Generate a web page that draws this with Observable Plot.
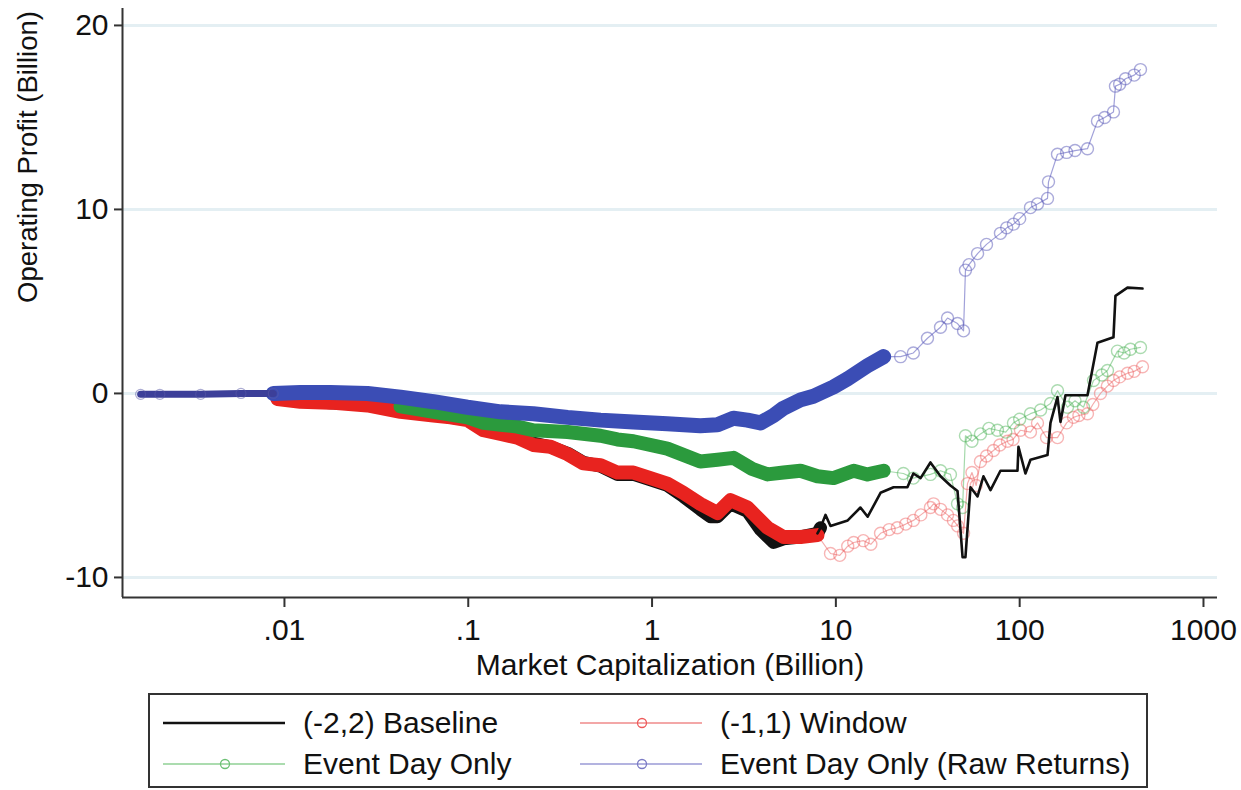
<!DOCTYPE html>
<html>
<head>
<meta charset="utf-8">
<script src="https://cdn.jsdelivr.net/npm/d3@7"></script>
<script src="https://cdn.jsdelivr.net/npm/@observablehq/plot@0.6"></script>
<style>
  body { margin: 0; background: #fff; font-family: "Liberation Sans", Arial, sans-serif; }
  #wrap { position: relative; width: 1241px; height: 790px; }
  #legend { position: absolute; left: 148px; top: 693px; width: 1000px; height: 95px;
            box-sizing: border-box; border: 2px solid #333; }
  .item { position: absolute; display: flex; align-items: center; font-size: 30px; color: #111; white-space: nowrap; }
</style>
</head>
<body>
<div id="wrap">
  <div id="chart"></div>
  <div id="legend"></div>
</div>
<script>
// tick marks and labels
const capTicks = [0.01, 0.1, 1, 10, 100, 1000];
const capTickLabels = [".01", ".1", "1", "10", "100", "1000"];
const profitTicks = [-10, 0, 10, 20];

// (-2,2) Baseline
const baselineCap = [0.00916, 0.0122, 0.0178, 0.0283, 0.0428, 0.0647, 0.0800, 0.0990, 0.121, 0.150,
  0.185, 0.226, 0.280, 0.347, 0.423, 0.524, 0.648, 0.792, 0.980, 1.21,
  1.48, 1.83, 2.08, 2.27, 2.67, 3.30, 3.89, 4.58, 5.19, 6.42,
  7.94, 8.25, 8.78, 9.35, 11.6, 13.6, 14.9, 17.5, 20.6, 24.5,
  26.4, 28.9, 32.7, 37.1, 42.0, 45.9, 48.9, 50.7, 54.0, 59.0,
  63.5, 69.4, 78.6, 97.3, 98.5, 107.5, 114.5, 141.7, 147.1, 160.6,
  166.7, 177.5, 233.8, 265.0, 323.8, 332.0, 385.9, 465.7];
const baselineProfit = [-0.3, -0.4, -0.5, -0.6, -0.85, -1.1, -1.3, -1.4, -1.85, -2.1,
  -2.3, -2.7, -2.9, -3.25, -3.75, -3.95, -4.4, -4.4, -4.7, -5.0,
  -5.6, -6.3, -6.7, -6.7, -6.0, -6.4, -7.4, -8.1, -7.9, -7.8,
  -7.6, -7.3, -6.6, -7.2, -6.9, -6.2, -6.7, -5.4, -5.1, -5.1,
  -4.35, -4.6, -3.75, -4.5, -5.0, -5.3, -8.9, -8.9, -5.1, -5.6,
  -4.5, -5.25, -4.2, -4.2, -2.9, -4.35, -3.6, -3.35, -1.6, -0.2,
  -1.55, -0.1, -0.1, 2.75, 3.05, 5.3, 5.75, 5.7];

// (-1,1) Window
const windowCap = [0.00916, 0.0122, 0.0178, 0.0283, 0.0428, 0.0647, 0.0800, 0.0990, 0.121, 0.150,
  0.185, 0.226, 0.280, 0.347, 0.423, 0.524, 0.648, 0.792, 0.980, 1.21,
  1.48, 1.83, 2.27, 2.67, 3.30, 4.25, 5.19, 6.42, 7.94, 9.35,
  10.5, 11.6, 12.5, 14.1, 15.5, 17.5, 19.5, 21.6, 24.0, 26.4,
  29.0, 32.7, 34.0, 37.1, 40.5, 43.6, 46.0, 49.5, 52.0, 55.0,
  58.0, 61.2, 66.0, 72.0, 78.0, 85.8, 92.0, 101.0, 114.5, 125.0,
  140.0, 160.6, 180.0, 196.2, 210.0, 233.8, 250.0, 275.2, 300.0, 323.8,
  350.0, 385.9, 420.0, 465.7];
const windowProfit = [-0.3, -0.45, -0.5, -0.65, -1.0, -1.2, -1.3, -1.45, -2.0, -2.2,
  -2.4, -2.8, -2.9, -3.3, -3.8, -3.9, -4.3, -4.3, -4.6, -4.9,
  -5.4, -6.0, -6.5, -5.8, -6.2, -7.3, -7.8, -7.8, -7.7, -8.7,
  -8.8, -8.3, -8.1, -8.0, -8.2, -7.6, -7.4, -7.3, -7.1, -6.9,
  -6.6, -6.2, -6.0, -6.3, -6.6, -6.9, -7.2, -7.6, -4.9, -4.3,
  -5.0, -3.7, -3.4, -3.1, -2.8, -2.6, -2.5, -2.0, -2.1, -1.6,
  -2.4, -2.4, -1.6, -1.3, -1.2, -1.1, -0.6, 0.0, 0.4, 0.7,
  0.9, 1.1, 1.2, 1.45];

// Event Day Only
const eventCap = [0.00916, 0.0122, 0.0178, 0.0283, 0.0428, 0.0647, 0.0990, 0.121, 0.150, 0.185,
  0.226, 0.347, 0.524, 0.648, 0.792, 1.21, 1.83, 2.27, 2.77, 3.50,
  4.25, 5.19, 6.42, 7.94, 9.70, 12.5, 14.85, 18.2, 23.3, 26.4,
  32.7, 37.1, 42.0, 45.9, 48.9, 50.7, 55.0, 61.2, 68.0, 75.7,
  84.0, 92.5, 100.0, 114.5, 130.0, 147.1, 160.6, 182.0, 200.0, 222.4,
  252.1, 280.0, 300.4, 340.4, 370.0, 400.7, 454.2];
const eventProfit = [-0.2, -0.3, -0.35, -0.5, -0.7, -1.0, -1.3, -1.6, -1.7, -1.8,
  -2.0, -2.1, -2.3, -2.5, -2.6, -3.0, -3.7, -3.6, -3.5, -4.1,
  -4.4, -4.3, -4.2, -4.5, -4.6, -4.2, -4.4, -4.2, -4.35, -4.6,
  -4.4, -4.2, -4.4, -6.0, -6.2, -2.3, -2.6, -2.2, -1.9, -2.0,
  -2.1, -1.6, -1.4, -1.1, -0.9, -0.55, 0.15, -0.75, -0.4, -0.75,
  0.7, 1.0, 1.25, 2.3, 2.2, 2.4, 2.5];

// Event Day Only (Raw Returns)
const rawCap = [0.00165, 0.0021, 0.0035, 0.0058, 0.0087, 0.0122, 0.0178, 0.0283, 0.0428, 0.0647,
  0.0990, 0.150, 0.226, 0.347, 0.524, 0.792, 1.21, 1.83, 2.27, 2.77,
  3.30, 3.89, 4.58, 5.19, 6.42, 7.55, 9.70, 11.6, 14.85, 18.2,
  22.5, 26.4, 31.5, 37.1, 40.5, 45.9, 49.5, 50.7, 53.0, 59.0,
  66.0, 78.6, 85.0, 92.5, 100.0, 114.5, 125.0, 141.7, 143.5, 160.6,
  180.0, 200.0, 233.8, 265.0, 290.0, 323.8, 332.0, 350.0, 376.4, 420.0,
  454.2];
const rawProfit = [-0.05, -0.05, -0.05, 0.0, 0.0, 0.05, 0.05, 0.0, -0.2, -0.45,
  -0.75, -1.0, -1.1, -1.3, -1.45, -1.55, -1.65, -1.75, -1.7, -1.35,
  -1.45, -1.6, -1.2, -0.8, -0.35, -0.15, 0.35, 0.8, 1.5, 2.0,
  2.0, 2.2, 3.0, 3.6, 4.1, 3.8, 3.4, 6.7, 7.0, 7.6,
  8.1, 8.7, 9.0, 9.2, 9.5, 10.1, 10.3, 10.6, 11.5, 13.0,
  13.1, 13.2, 13.3, 14.8, 15.0, 15.3, 16.7, 16.8, 17.1, 17.3,
  17.6];

const seriesNames = ["(-2,2) Baseline", "(-1,1) Window", "Event Day Only", "Event Day Only (Raw Returns)"];

const toRows = (caps, profits) => caps.map((c, i) => ({cap: c, profit: profits[i]}));
const baseline = toRows(baselineCap, baselineProfit);
const windowS = toRows(windowCap, windowProfit);
const eventS = toRows(eventCap, eventProfit);
const rawS = toRows(rawCap, rawProfit);

const xDomain = [0.001315, 1192];
const yDomain = [-11.09, 20.92];

// where the markers pile up into a solid band
const band = (rows, lo, hi) => rows.filter(d => d.cap >= lo && d.cap <= hi);
const after = (rows, lo) => rows.filter(d => d.cap >= lo);
const font = "Liberation Sans, Arial, sans-serif";

const chart = Plot.plot({
  width: 1241,
  height: 690,
  marginLeft: 122,
  marginRight: 24,
  marginTop: 8,
  marginBottom: 93,
  style: {fontFamily: font, fontSize: "30px", color: "#111", background: "white"},
  x: {type: "log", domain: xDomain},
  y: {domain: yDomain},
  marks: [
    Plot.ruleY(profitTicks, {stroke: "#e4eff3", strokeWidth: 3}),
    // thin connecting lines
    Plot.line(windowS, {x: "cap", y: "profit", stroke: "#ef8a8a", strokeWidth: 1.2, strokeOpacity: 0.7}),
    Plot.line(eventS, {x: "cap", y: "profit", stroke: "#7fc987", strokeWidth: 1.2, strokeOpacity: 0.7}),
    Plot.line(rawS, {x: "cap", y: "profit", stroke: "#8a8ad0", strokeWidth: 1.2, strokeOpacity: 0.8}),
    // dense bands
    Plot.line(band(baseline, 0, 8.3), {x: "cap", y: "profit", stroke: "#111", strokeWidth: 13, strokeLinejoin: "round", strokeLinecap: "round"}),
    Plot.line(band(windowS, 0, 8.0), {x: "cap", y: "profit", stroke: "#e8231f", strokeWidth: 14, strokeLinejoin: "round", strokeLinecap: "round"}),
    Plot.line(band(eventS, 0.03, 20), {x: "cap", y: "profit", stroke: "#2b9a3d", strokeWidth: 14, strokeLinejoin: "round", strokeLinecap: "round"}),
    Plot.line(band(rawS, 0.0087, 20), {x: "cap", y: "profit", stroke: "#3b4db5", strokeWidth: 15, strokeLinejoin: "round", strokeLinecap: "round"}),
    Plot.line(band(rawS, 0.0016, 0.0087), {x: "cap", y: "profit", stroke: "#3c3f99", strokeWidth: 7, strokeLinejoin: "round", strokeLinecap: "round"}),
    Plot.dot(band(rawS, 0.0016, 0.0087), {x: "cap", y: "profit", r: 5, stroke: "#5a5aa8", strokeOpacity: 0.5, strokeWidth: 1.2}),
    // sparse hollow markers
    Plot.dot(after(windowS, 8.0), {x: "cap", y: "profit", r: 6, stroke: "#ee5a5a", strokeOpacity: 0.45, strokeWidth: 1.4}),
    Plot.dot(after(eventS, 20), {x: "cap", y: "profit", r: 6, stroke: "#45b050", strokeOpacity: 0.45, strokeWidth: 1.4}),
    Plot.dot(after(rawS, 20), {x: "cap", y: "profit", r: 6, stroke: "#5858b8", strokeOpacity: 0.5, strokeWidth: 1.4}),
    Plot.line(after(baseline, 7.9), {x: "cap", y: "profit", stroke: "#111", strokeWidth: 2.6, strokeLinejoin: "round"}),
    // axes
    Plot.ruleX([xDomain[0]], {stroke: "#333", strokeWidth: 2}),
    Plot.ruleY([yDomain[0]], {stroke: "#333", strokeWidth: 2}),
    Plot.axisX(capTicks, {tickFormat: d => capTickLabels[capTicks.indexOf(d)], tickSize: 10, tickPadding: 11, fontSize: 30, strokeWidth: 2, stroke: "#333", label: null}),
    Plot.axisY(profitTicks, {tickFormat: d => String(d), tickSize: 8, tickPadding: 6, fontSize: 30, strokeWidth: 2, stroke: "#333", label: null}),
    Plot.text(["Operating Profit (Billion)"], {frameAnchor: "left", dx: -94, rotate: -90, fontSize: 27.5, fill: "#111"}),
    Plot.text(["Market Capitalization (Billion)"], {frameAnchor: "bottom", dy: 77, fontSize: 30, fill: "#111"})
  ]
});

d3.select("#chart").append(() => chart);

// legend
const swatches = [
  {line: "#111", lineW: 2.6, dot: null},
  {line: "#ef8a8a", lineW: 1.6, dot: "#ee5a5a"},
  {line: "#8fd095", lineW: 1.6, dot: "#6cc074"},
  {line: "#9a9ad6", lineW: 1.6, dot: "#7a7ac4"}
];
const legendPos = [[0, 0], [0, 1], [1, 0], [1, 1]];
const legend = d3.select("#legend");
seriesNames.forEach((name, i) => {
  const [row, col] = legendPos[i];
  const s = swatches[i];
  const item = legend.append("div").attr("class", "item")
    .style("left", (13 + col * 417) + "px")
    .style("top", (row === 0 ? 10 : 51) + "px")
    .style("height", "36px");
  const svg = item.append("svg").attr("width", 122).attr("height", 36);
  svg.append("line").attr("x1", 0).attr("x2", 122).attr("y1", 18).attr("y2", 18)
    .attr("stroke", s.line).attr("stroke-width", s.lineW);
  if (s.dot) svg.append("circle").attr("cx", 62).attr("cy", 18).attr("r", 4.5)
    .attr("fill", "none").attr("stroke", s.dot).attr("stroke-width", 1.3);
  item.append("span").style("margin-left", "18px").text(name);
});
</script>
</body>
</html>
